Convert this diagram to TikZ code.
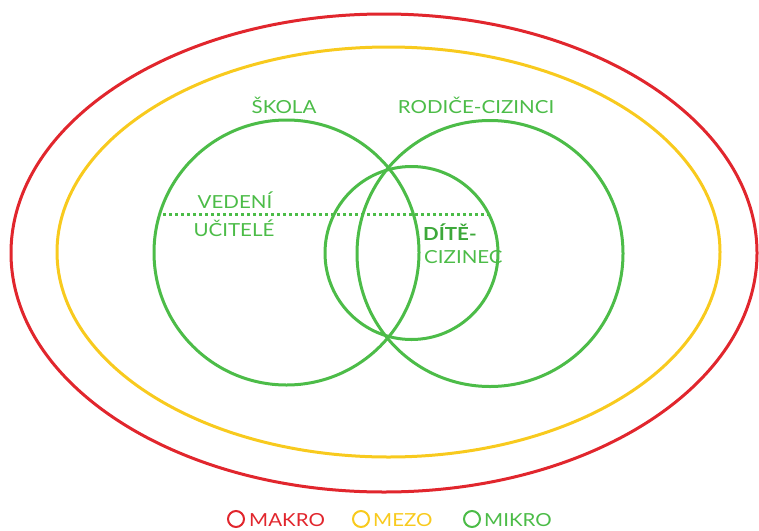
\documentclass[tikz,border=0pt]{standalone}
\usepackage{fontspec}
\setmainfont{Lato}[FakeStretch=1.14]
\usetikzlibrary{shapes.geometric}
\definecolor{cred}{HTML}{E1262D}
\definecolor{cyel}{HTML}{F8CA1E}
\definecolor{cgreen}{HTML}{4CBC48}
\definecolor{cdgreen}{HTML}{3DA83A}
\tikzset{
  ring/.style={draw, ellipse, inner sep=0pt, line width=3pt},
  circ/.style={draw=cgreen, circle, inner sep=0pt, line width=3pt},
  lbl/.style={text=cgreen, font=\fontsize{18}{20}\selectfont, inner sep=0pt},
  leg/.style={font=\fontsize{18}{20}\selectfont, inner sep=0pt, anchor=west},
  legc/.style={draw, circle, line width=2pt, minimum size=16pt, inner sep=0pt},
}
\begin{document}
\begin{tikzpicture}[x=1pt,y=-1pt]
\useasboundingbox (0,0) rectangle (759,530);
\node[ring, draw=cred, minimum width=746pt, minimum height=478pt] (makro) at (384,253) {};
\node[ring, draw=cyel, minimum width=663pt, minimum height=410pt] (mezo) at (388.5,252) {};
\node[circ, minimum size=265pt] (skola) at (286.5,252.5) {};
\node[circ, minimum size=266pt] (rodice) at (490,253.5) {};
\node[circ, minimum size=173pt] (dite) at (411.5,253) {};
\coordinate (dl) at (163,214);
\coordinate (dr) at (490,214);
\draw[cgreen, line width=3pt, dash pattern=on 3pt off 3pt] (dl) -- (dr);
\node[lbl] (tskola) at (284,105) {ŠKOLA};
\node[lbl] (trodice) at (476,105) {RODIČE-CIZINCI};
\node[lbl, anchor=base] (tved) at (235,208) {VEDENÍ};
\node[lbl, anchor=base] (tuc) at (234,236) {UČITELÉ};
\node[lbl, anchor=base west, text=cdgreen, font=\fontsize{18}{20}\selectfont\bfseries] (tdite) at (423,240) {DÍTĚ-};
\node[lbl, anchor=base west] (tciz) at (424,263) {CIZINEC};
\node[legc, draw=cred] (lm) at (236,519) {};
\node[leg, text=cred] (tm) at (249,520) {MAKRO};
\node[legc, draw=cyel] (lz) at (361,519) {};
\node[leg, text=cyel] (tz) at (373,520) {MEZO};
\node[legc, draw=cgreen] (lk) at (472,519) {};
\node[leg, text=cgreen] (tk) at (484,520) {MIKRO};
\end{tikzpicture}
\end{document}
